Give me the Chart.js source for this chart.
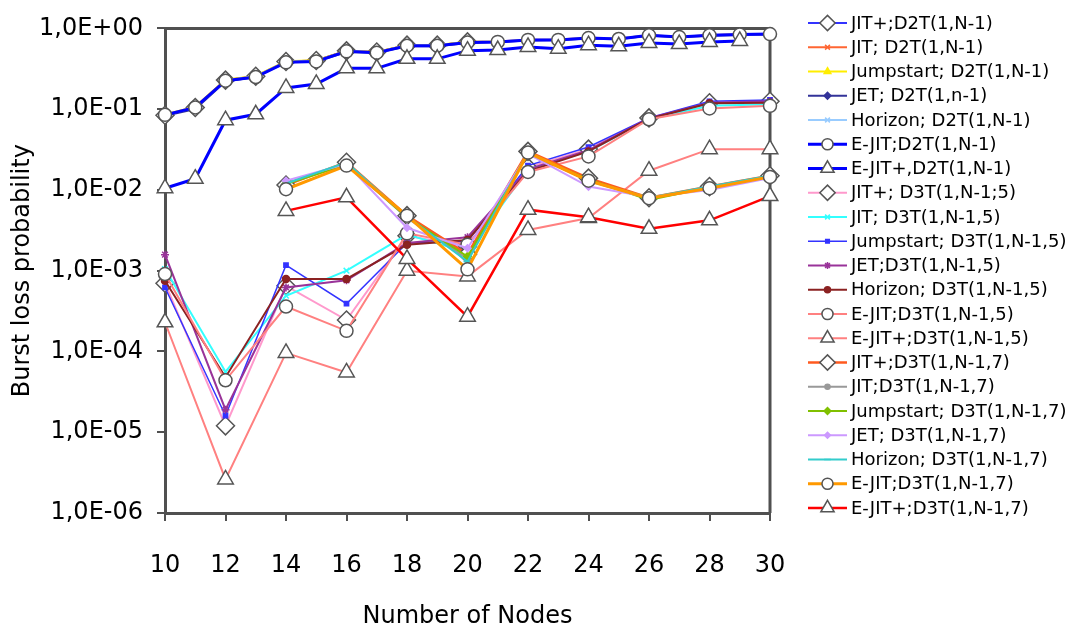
<!DOCTYPE html>
<html>
<head>
<meta charset="utf-8">
<script src="https://cdn.jsdelivr.net/npm/chart.js@4.4.1/dist/chart.umd.min.js"></script>
<style>
  html, body { margin: 0; background: #fff; }
  #wrap { width: 1077px; height: 631px; }
</style>
</head>
<body>
<div id="wrap"><canvas id="chart"></canvas></div>
<script>
// x categories
const nodesD2T = [10, 11, 12, 13, 14, 15, 16, 17, 18, 19, 20, 21, 22, 23, 24, 25, 26, 27, 28, 29, 30];
const nodesD3T = [10, 12, 14, 16, 18, 20, 22, 24, 26, 28, 30];

const yTickValues = [1e-6, 1e-5, 1e-4, 1e-3, 1e-2, 1e-1, 1];
const yTickLabels = ['1,0E-06', '1,0E-05', '1,0E-04', '1,0E-03', '1,0E-02', '1,0E-01', '1,0E+00'];
const xTickStep = 2;

const seriesNames = [
  'JIT+;D2T(1,N-1)', 'JIT; D2T(1,N-1)', 'Jumpstart; D2T(1,N-1)', 'JET; D2T(1,n-1)',
  'Horizon; D2T(1,N-1)', 'E-JIT;D2T(1,N-1)', 'E-JIT+,D2T(1,N-1)',
  'JIT+; D3T(1,N-1;5)', 'JIT; D3T(1,N-1,5)', 'Jumpstart; D3T(1,N-1,5)', 'JET;D3T(1,N-1,5)',
  'Horizon; D3T(1,N-1,5)', 'E-JIT;D3T(1,N-1,5)', 'E-JIT+;D3T(1,N-1,5)',
  'JIT+;D3T(1,N-1,7)', 'JIT;D3T(1,N-1,7)', 'Jumpstart; D3T(1,N-1,7)', 'JET; D3T(1,N-1,7)',
  'Horizon; D3T(1,N-1,7)', 'E-JIT;D3T(1,N-1,7)', 'E-JIT+;D3T(1,N-1,7)'
];

// D2T(1,N-1), one value per node 10..30
const jitPlusD2T   = [0.084, 0.105, 0.229, 0.256, 0.389, 0.40, 0.527, 0.51, 0.62, 0.62, 0.68, null, null, null, null, null, null, null, null, null, null];
const jitD2T       = [0.085, 0.107, 0.23, 0.255, 0.39, 0.40, 0.53, 0.51, 0.62, 0.62, 0.68, 0.69, 0.725, 0.73, 0.765, 0.75, 0.825, 0.79, 0.825, 0.845, 0.855];
const jumpstartD2T = [0.086, 0.107, 0.232, 0.258, 0.392, 0.402, 0.53, 0.512, 0.622, 0.622, 0.682, 0.685, 0.72, 0.725, 0.76, 0.745, 0.82, 0.785, 0.82, 0.84, 0.85];
const jetD2T       = [0.083, 0.10, 0.22, 0.25, 0.38, 0.39, 0.51, 0.50, 0.60, 0.60, 0.66, 0.68, 0.71, 0.72, 0.75, 0.74, 0.81, 0.78, 0.81, 0.83, 0.84];
const horizonD2T   = [0.085, 0.105, 0.225, 0.255, 0.385, 0.395, 0.52, 0.505, 0.615, 0.615, 0.675, 0.69, 0.72, 0.73, 0.76, 0.75, 0.82, 0.79, 0.82, 0.84, 0.85];
const eJitD2T      = [0.085, 0.105, 0.225, 0.25, 0.38, 0.39, 0.52, 0.50, 0.61, 0.61, 0.67, 0.68, 0.72, 0.72, 0.76, 0.74, 0.82, 0.78, 0.82, 0.84, 0.85];
const eJitPlusD2T  = [0.0105, 0.0138, 0.073, 0.0865, 0.183, 0.205, 0.32, 0.32, 0.42, 0.42, 0.53, 0.54, 0.59, 0.56, 0.62, 0.60, 0.66, 0.64, 0.68, 0.70, null];

// D3T(1,N-1,5), nodes 10,12..30
const jitPlusD3T5   = [7.0e-4, 1.2e-5, 6.5e-4, 2.45e-4, 2.7e-3, 2.0e-3, 0.019, 0.032, 0.078, 0.12, 0.125];
const jitD3T5       = [1.05e-3, 5.6e-5, 4.9e-4, 1.0e-3, 2.8e-3, 1.7e-3, 0.018, 0.030, 0.075, 0.11, 0.115];
const jumpstartD3T5 = [6.2e-4, 1.6e-5, 1.17e-3, 3.9e-4, 2.2e-3, 2.3e-3, 0.020, 0.034, 0.078, 0.125, 0.13];
const jetD3T5       = [1.58e-3, 1.9e-5, 6.2e-4, 7.6e-4, 2.2e-3, 2.6e-3, 0.018, 0.031, 0.077, 0.12, 0.125];
const horizonD3T5   = [7.5e-4, 4.8e-5, 7.9e-4, 7.9e-4, 2.1e-3, 2.4e-3, 0.017, 0.030, 0.076, 0.118, 0.12];
const eJitD3T5      = [9.1e-4, 4.4e-5, 3.6e-4, 1.8e-4, 2.9e-3, 2.1e-3, 0.0167, 0.026, 0.075, 0.102, 0.11];
const eJitPlusD3T5  = [2.3e-4, 2.6e-6, 9.6e-5, 5.5e-5, 1.0e-3, 8.5e-4, 3.2e-3, 4.5e-3, 0.0173, 0.032, 0.032];

// D3T(1,N-1,7), nodes 10,12..30 (no values below 14)
const jitPlusD3T7   = [null, null, 0.0115, 0.022, 4.8e-3, 1.6e-3, 0.030, 0.014, 8.0e-3, 0.011, 0.015];
const jitD3T7       = [null, null, 0.012, 0.021, 4.5e-3, 1.4e-3, 0.029, 0.013, 7.8e-3, 0.0105, 0.0145];
const jumpstartD3T7 = [null, null, 0.0118, 0.0205, 4.6e-3, 1.5e-3, 0.028, 0.0135, 7.5e-3, 0.0108, 0.0148];
const jetD3T7       = [null, null, 0.013, 0.021, 3.4e-3, 1.9e-3, 0.028, 0.011, 8.2e-3, 0.010, 0.014];
const horizonD3T7   = [null, null, 0.012, 0.022, 4.7e-3, 1.3e-3, 0.029, 0.013, 8.0e-3, 0.011, 0.015];
const eJitD3T7      = [null, null, 0.0102, 0.020, 4.8e-3, 1.04e-3, 0.029, 0.013, 7.9e-3, 0.0105, 0.0145];
const eJitPlusD3T7  = [null, null, 5.5e-3, 8.1e-3, 1.4e-3, 2.7e-4, 5.7e-3, 4.6e-3, 3.3e-3, 4.2e-3, 8.4e-3];

const seriesData = [
  [nodesD2T, jitPlusD2T], [nodesD2T, jitD2T], [nodesD2T, jumpstartD2T], [nodesD2T, jetD2T],
  [nodesD2T, horizonD2T], [nodesD2T, eJitD2T], [nodesD2T, eJitPlusD2T],
  [nodesD3T, jitPlusD3T5], [nodesD3T, jitD3T5], [nodesD3T, jumpstartD3T5], [nodesD3T, jetD3T5],
  [nodesD3T, horizonD3T5], [nodesD3T, eJitD3T5], [nodesD3T, eJitPlusD3T5],
  [nodesD3T, jitPlusD3T7], [nodesD3T, jitD3T7], [nodesD3T, jumpstartD3T7], [nodesD3T, jetD3T7],
  [nodesD3T, horizonD3T7], [nodesD3T, eJitD3T7], [nodesD3T, eJitPlusD3T7]
];

// line colour, marker, marker size, white marker?, line width
const MK = '#555555';
const styles = [
  { c: '#3333ff', p: 'rectRot',  r: 9,   white: true,  w: 2 },
  { c: '#ff6633', p: 'crossRot', r: 4,   white: false, w: 2 },
  { c: '#ffee00', p: 'triangle', r: 4.5, white: false, w: 2 },
  { c: '#333399', p: 'rectRot',  r: 4,   white: false, w: 2 },
  { c: '#99ccff', p: 'crossRot', r: 4,   white: false, w: 2 },
  { c: '#0000ff', p: 'circle',   r: 6.5, white: true,  w: 3 },
  { c: '#0000ff', p: 'triangle', r: 9,   white: true,  w: 3 },
  { c: '#ff99cc', p: 'rectRot',  r: 9,   white: true,  w: 2 },
  { c: '#33ffff', p: 'crossRot', r: 4,   white: false, w: 2 },
  { c: '#3333ff', p: 'rect',     r: 3,   white: false, w: 1.5 },
  { c: '#993399', p: 'star',     r: 4,   white: false, w: 2 },
  { c: '#8b2222', p: 'circle',   r: 3.5, white: false, w: 2 },
  { c: '#ff8080', p: 'circle',   r: 6.5, white: true,  w: 2 },
  { c: '#ff8080', p: 'triangle', r: 9,   white: true,  w: 2 },
  { c: '#ff5a1f', p: 'rectRot',  r: 9,   white: true,  w: 2.5 },
  { c: '#999999', p: 'circle',   r: 3,   white: false, w: 2 },
  { c: '#80c000', p: 'rectRot',  r: 4,   white: false, w: 2 },
  { c: '#cc99ff', p: 'rectRot',  r: 3.5, white: false, w: 2 },
  { c: '#33cccc', p: 'line',     r: 4,   white: false, w: 2 },
  { c: '#ff9900', p: 'circle',   r: 6.5, white: true,  w: 3 },
  { c: '#ff0000', p: 'triangle', r: 9,   white: true,  w: 2.5 }
];

function toPoints(xs, ys) {
  return xs.map((x, i) => ({ x: x, y: ys[i] })).filter(p => p.y !== null);
}

const datasets = seriesNames.map((name, i) => {
  const s = styles[i];
  return {
    label: name,
    data: toPoints(seriesData[i][0], seriesData[i][1]),
    borderColor: s.c,
    borderWidth: s.w,
    pointStyle: s.p,
    pointRadius: s.r,
    pointBackgroundColor: s.white ? '#ffffff' : s.c,
    pointBorderColor: s.white ? MK : s.c,
    pointBorderWidth: 1.5,
    tension: 0,
    clip: false,
    order: seriesNames.length - i
  };
});

const AXIS = '#505050';

const framePlugin = {
  id: 'frame',
  beforeDatasetsDraw(chart) {
    const { ctx, chartArea: a } = chart;
    ctx.save();
    ctx.strokeStyle = AXIS;
    ctx.lineWidth = 3;
    ctx.beginPath();
    ctx.moveTo(a.left, a.top);
    ctx.lineTo(a.right, a.top);
    ctx.lineTo(a.right, a.bottom);
    ctx.stroke();
    ctx.restore();
  }
};

const legendPlugin = {
  id: 'sideLegend',
  afterDraw(chart) {
    const ctx = chart.ctx;
    const x0 = 808, x1 = 847, tx = 851, y0 = 23, dy = 24.25;
    chart.data.datasets.forEach((ds, i) => {
      const y = y0 + i * dy;
      ctx.save();
      ctx.strokeStyle = ds.borderColor;
      ctx.lineWidth = ds.borderWidth;
      ctx.beginPath();
      ctx.moveTo(x0, y);
      ctx.lineTo(x1, y);
      ctx.stroke();
      ctx.fillStyle = ds.pointBackgroundColor;
      ctx.strokeStyle = ds.pointBorderColor;
      ctx.lineWidth = ds.pointBorderWidth;
      Chart.helpers.drawPoint(ctx, {
        pointStyle: ds.pointStyle,
        radius: ds.pointRadius * 0.85,
        borderWidth: ds.pointBorderWidth,
        rotation: 0
      }, (x0 + x1) / 2, y);
      ctx.fillStyle = '#000';
      ctx.font = '18px "DejaVu Sans"';
      ctx.textAlign = 'left';
      ctx.textBaseline = 'middle';
      ctx.fillText(ds.label, tx, y + 1);
      ctx.restore();
    });
  }
};

Chart.defaults.font.family = '"DejaVu Sans", sans-serif';
Chart.defaults.color = '#000';

new Chart(document.getElementById('chart'), {
  type: 'line',
  data: { datasets: datasets },
  options: {
    responsive: true,
    maintainAspectRatio: false,
    animation: false,
    layout: { padding: { left: 0, right: 307, top: 16, bottom: 0 } },
    plugins: { legend: { display: false }, tooltip: { enabled: false } },
    scales: {
      x: {
        type: 'linear',
        min: 10,
        max: 30,
        afterFit: s => { s.height = 118; },
        ticks: { stepSize: xTickStep, padding: 30, font: { size: 24 }, color: '#000' },
        grid: { drawOnChartArea: false, drawTicks: true, tickLength: 8, color: AXIS, lineWidth: 2 },
        border: { display: true, color: AXIS, width: 3 },
        title: { display: true, text: 'Number of Nodes', font: { size: 24 }, color: '#000', padding: { top: 0, bottom: 0 } }
      },
      y: {
        type: 'logarithmic',
        min: 1e-6,
        max: 1,
        afterFit: s => { s.width = 165; },
        afterBuildTicks: s => { s.ticks = yTickValues.map(v => ({ value: v })); },
        ticks: { padding: 14, font: { size: 24 }, color: '#000', callback: (v, i) => yTickLabels[i] },
        grid: { drawOnChartArea: false, drawTicks: true, tickLength: 8, color: AXIS, lineWidth: 2 },
        border: { display: true, color: AXIS, width: 3 },
        title: { display: true, text: 'Burst loss probability', font: { size: 24 }, color: '#000', padding: { top: 8, bottom: 0 } }
      }
    }
  },
  plugins: [framePlugin, legendPlugin]
});
</script>
</body>
</html>
